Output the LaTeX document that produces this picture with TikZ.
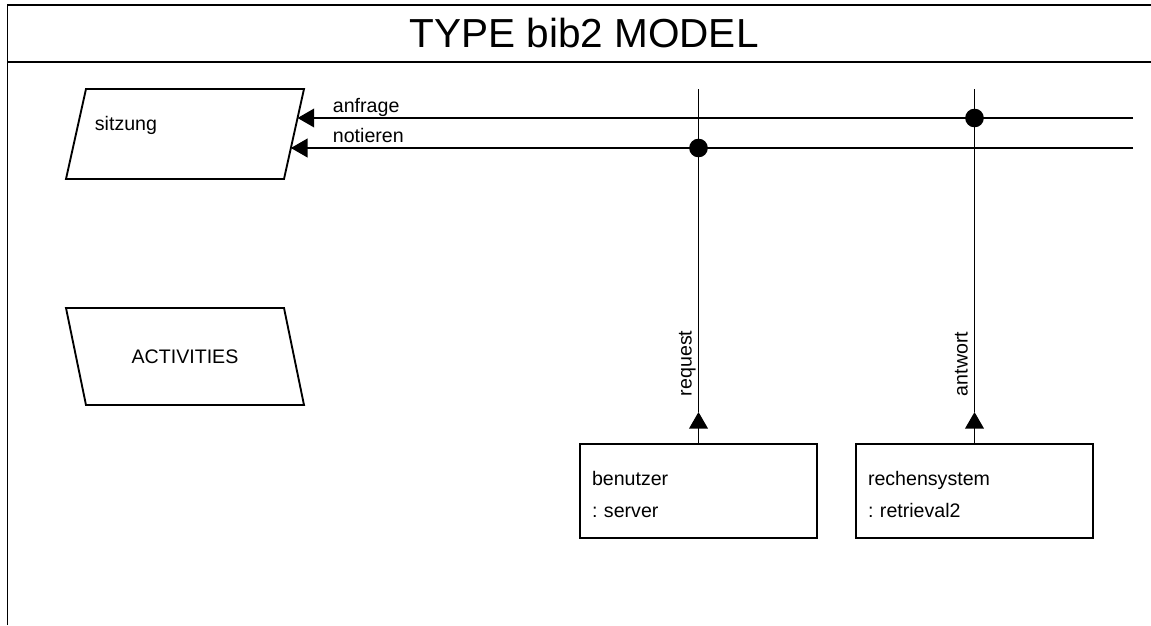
\documentclass[tikz,border=0pt]{standalone}
\usepackage{fontspec}
\setmainfont{Liberation Sans}
\usetikzlibrary{arrows.meta, positioning, calc}

\begin{document}
\frenchspacing
\begin{tikzpicture}[
		x=0.75pt, y=-0.75pt,
		line width=1.4pt,
		font=\fontsize{14.7}{17.6}\selectfont,
		pgram/.style={rectangle, minimum width=163.5pt, inner sep=0pt, outer sep=0pt},
		objbox/.style={rectangle, draw, minimum height=70.5pt, text width=159.75pt, inner xsep=9pt, align=left, outer sep=0pt, font=\fontsize{14.7}{24}\selectfont, execute at begin node={\rule{0pt}{16.5pt}}},
		lbl/.style={inner sep=0pt},
		dot/.style={circle, fill, inner sep=0pt, minimum size=14pt},
		arr/.style={-{Triangle[length=12.5pt, width=14pt]}}
		]
		\useasboundingbox (0,0) rectangle (1151,625);
		% Frame
		\draw (7.5,625) -- (7.5,5) -- (1151,5);
		\draw (7.5,62) -- (1151,62);
		\node (title) [font=\fontsize{30.4}{36}\selectfont] at (584,33) {TYPE bib2 MODEL};
		
		% Nodes
		\node (sitzung) [pgram, minimum height=67.5pt] at (185,134) {};
		\node (sitzungtext) [lbl, anchor=base west] at ($(sitzung.north west)+(18,41)$) {sitzung};
		\node (activities) [pgram, minimum height=72.75pt, below=96.75pt of sitzung] {ACTIVITIES};
		\node (benutzer) [objbox] at (698.5,491) {benutzer\\: server};
		\node (rechensystem) [objbox, right=29.25pt of benutzer] {rechensystem\\: retrieval2};
		
		% Parallelograms
		\coordinate (sitTL) at ($(sitzung.north west)+(10,0)$);
		\coordinate (sitTR) at ($(sitzung.north east)+(10,0)$);
		\coordinate (sitBR) at ($(sitzung.south east)+(-10,0)$);
		\coordinate (sitBL) at ($(sitzung.south west)+(-10,0)$);
		\draw (sitTL) -- (sitTR) -- (sitBR) -- (sitBL) -- cycle;
		\draw ($(activities.north west)+(-10,0)$) -- ($(activities.north east)+(-10,0)$)
			-- ($(activities.south east)+(10,0)$) -- ($(activities.south west)+(10,0)$) -- cycle;
		
		% Coordinates
		\coordinate (linetop) at (0,89);
		\coordinate (anfR) at (1133,118);
		\coordinate (notR) at (1133,148);
		\coordinate (anfL) at ($(sitTR)!0.322!(sitBR)$);
		\coordinate (notL) at ($(sitTR)!0.656!(sitBR)$);
		\coordinate (reqtip) at ($(benutzer.north)+(0,-32)$);
		\coordinate (anttip) at ($(rechensystem.north)+(0,-32)$);
		
		% Arrows
		\draw [arr] (anfR) -- (anfR -| anfL);
		\draw [arr] (notR) -- (notR -| notL);
		\draw [arr] (benutzer.north) -- (reqtip);
		\draw (reqtip) -- (benutzer.north |- linetop);
		\draw [arr] (rechensystem.north) -- (anttip);
		\draw (anttip) -- (rechensystem.north |- linetop);
		\node (j1) [dot] at (benutzer.north |- notR) {};
		\node (j2) [dot] at (rechensystem.north |- anfR) {};
		
		% Labels
		\node (anfrage) [lbl, anchor=base west] at (332,112) {anfrage};
		\node (notieren) [lbl, anchor=base west] at (332,142) {notieren};
		\node (request) [lbl, rotate=90, anchor=base west] at ($(benutzer.north)+(-7,-47)$) {request};
		\node (antwort) [lbl, rotate=90, anchor=base west] at ($(rechensystem.north)+(-7,-47)$) {antwort};
		
	\end{tikzpicture}
\end{document}
